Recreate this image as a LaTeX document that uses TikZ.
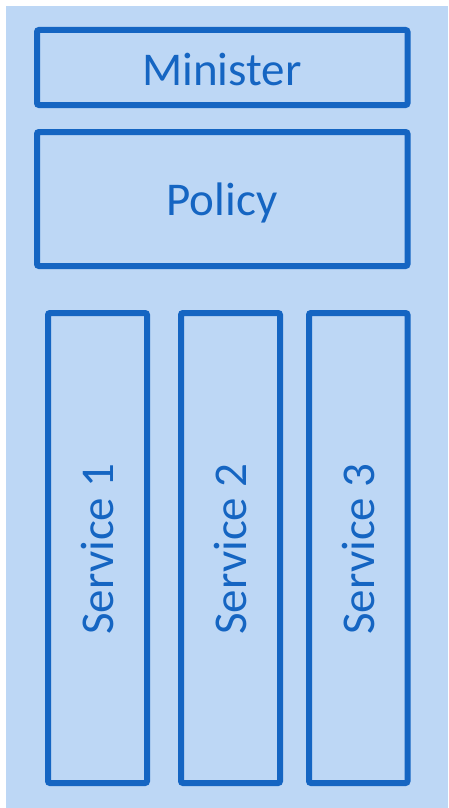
\documentclass[tikz,border=0pt]{standalone}
\usepackage{fontspec}
\setmainfont{Carlito}
\definecolor{bgblue}{RGB}{189,215,245}
\definecolor{edgeblue}{RGB}{21,101,194}
\begin{document}
\begin{tikzpicture}[x=1pt,y=-1pt,
  box/.style={draw=edgeblue,line width=6pt,rounded corners=2pt},
  lbl/.style={text=edgeblue,font=\fontsize{47}{50}\selectfont,inner sep=0pt}]
\useasboundingbox (0,0) rectangle (448,808);
\fill[white] (0,0) rectangle (448,808);
\fill[bgblue] (6,6) rectangle (448,808);
\draw[box] (37,30) rectangle (407.5,105);
\draw[box] (37,132) rectangle (407.5,266);
\draw[box] (48,313) rectangle (147,783);
\draw[box] (181,313) rectangle (280,783);
\draw[box] (309,313) rectangle (407.5,783);
\node[lbl] (min) at (222,70) {Minister};
\node[lbl] (pol) at (222,203) {Policy};
\node[lbl,rotate=90] (s1) at (97.5,549) {Service 1};
\node[lbl,rotate=90] (s2) at (230.5,549) {Service 2};
\node[lbl,rotate=90] (s3) at (358,549) {Service 3};
\end{tikzpicture}
\end{document}
